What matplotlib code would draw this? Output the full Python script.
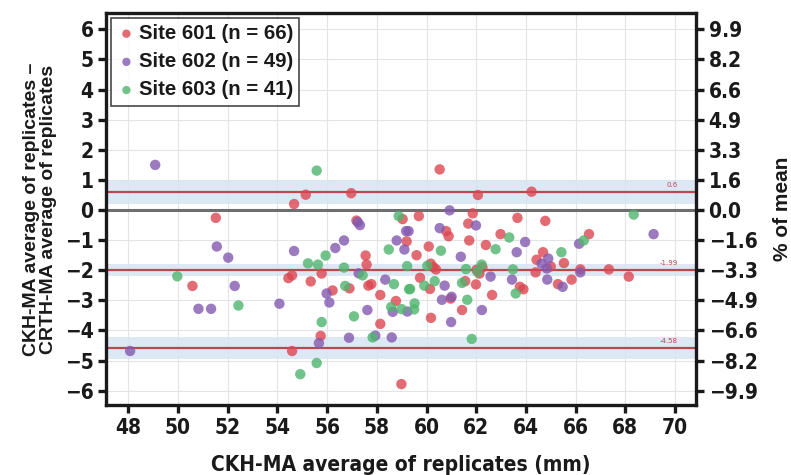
"""
Bland-Altman style plot: CKH-MA vs CRTH-MA replicate averages by site.
"""

import numpy as np
import matplotlib
matplotlib.use('Agg')
import matplotlib.pyplot as plt

# ============================================================
# DATA
# ============================================================
site601_x = [51.52, 50.58, 55.14, 54.67, 56.97, 57.18, 59.04, 59.20, 57.55, 57.59,
             55.78, 54.59, 54.44, 55.34, 57.66, 57.78, 56.22, 58.14, 58.77, 58.14,
             55.74, 54.59, 58.99, 60.53, 62.07, 64.23, 59.69, 61.86, 61.68, 60.79,
             60.89, 63.66, 64.78, 62.98, 61.72, 62.39, 64.69, 60.09, 64.43, 64.39,
             60.17, 60.27, 60.38, 62.02, 62.13, 63.76, 63.90, 59.74, 60.14, 61.56,
             61.99, 62.64, 60.97, 61.43, 60.18, 66.54, 65.00, 65.53, 65.29, 65.84,
             66.19, 67.34, 68.14, 59.60, 62.25, 56.90]
site601_y = [-0.26, -2.52, 0.51, 0.20, 0.56, -0.35, -0.30, -1.04, -1.51, -1.81,
             -2.11, -2.17, -2.26, -2.37, -2.51, -2.46, -2.67, -2.82, -3.02, -3.78,
             -4.18, -4.68, -5.78, 1.35, 0.50, 0.61, -0.20, -0.11, -0.45, -0.70,
             -0.87, -0.26, -0.36, -0.80, -1.01, -1.16, -1.40, -1.21, -1.65, -2.07,
             -1.78, -1.89, -1.97, -1.98, -2.11, -2.55, -2.63, -2.25, -2.62, -2.36,
             -2.47, -2.82, -2.94, -3.32, -3.58, -0.80, -1.87, -1.76, -2.46, -2.31,
             -1.97, -1.97, -2.21, -1.50, -1.90, -2.60]

site602_x = [49.08, 51.56, 52.02, 52.28, 50.82, 51.33, 48.07, 57.23, 57.32, 59.18,
             59.28, 58.80, 59.11, 56.68, 56.33, 54.67, 57.27, 58.34, 55.98, 56.09,
             54.08, 58.64, 59.23, 57.62, 55.67, 56.88, 57.94, 58.60, 60.93, 61.99,
             60.53, 63.97, 63.63, 61.38, 64.90, 64.63, 64.84, 64.86, 62.58, 63.44,
             60.73, 60.62, 61.01, 62.23, 60.99, 69.14, 66.14, 66.19, 65.48]
site602_y = [1.50, -1.21, -1.58, -2.52, -3.28, -3.28, -4.68, -0.40, -0.50, -0.70,
             -0.70, -1.01, -1.31, -1.01, -1.26, -1.36, -2.10, -2.31, -2.77, -3.07,
             -3.11, -3.38, -3.37, -3.32, -4.42, -4.24, -4.17, -4.23, -0.01, -0.51,
             -0.60, -1.06, -1.40, -1.55, -1.61, -1.78, -1.94, -2.31, -2.21, -2.31,
             -2.51, -2.98, -2.88, -3.32, -3.72, -0.80, -1.12, -2.07, -2.55]

site603_x = [49.97, 52.43, 55.58, 58.88, 58.48, 55.94, 55.23, 55.63, 56.68, 57.43,
             56.73, 58.69, 59.30, 59.22, 58.58, 59.00, 57.08, 55.78, 57.83, 55.58,
             54.92, 63.33, 62.78, 60.58, 60.03, 61.59, 62.22, 63.48, 63.59, 59.34,
             59.91, 60.33, 61.43, 61.64, 61.82, 59.52, 59.50, 68.34, 66.33, 65.43,
             62.05]
site603_y = [-2.20, -3.17, 1.31, -0.20, -1.31, -1.51, -1.77, -1.81, -1.91, -2.17,
             -2.52, -2.46, -2.63, -1.86, -3.22, -3.29, -3.53, -3.72, -4.23, -5.08,
             -5.45, -0.91, -1.30, -1.35, -1.85, -1.96, -1.81, -1.97, -2.77, -2.62,
             -2.51, -2.36, -2.42, -2.98, -4.28, -3.10, -3.30, -0.15, -1.01, -1.40,
             -2.05]

sites  = ['Site 601 (n = 66)', 'Site 602 (n = 49)', 'Site 603 (n = 41)']
colors = ['#dc4650', '#8359b0', '#4fb56e']

# limits of agreement: value, CI half-width
loa_values = [0.6, -1.99, -4.58]
loa_labels = ['0.6', '-1.99', '-4.58']
loa_ci     = [0.39, 0.20, 0.37]

left_ticks  = list(range(-6, 7))
right_ticks = ['\u22129.9', '\u22128.2', '\u22126.6', '\u22124.9', '\u22123.3', '\u22121.6', '0.0',
               '1.6', '3.3', '4.9', '6.6', '8.2', '9.9']
x_ticks = list(range(48, 71, 2))

# ============================================================
# FIGURE
# ============================================================
NARROW = ['DejaVu Sans', 'Liberation Sans']
BOLD   = ['Liberation Sans', 'DejaVu Sans']
INK    = '#1a1a1a'

fig = plt.figure(figsize=(7.91, 4.75), dpi=100)
ax = fig.add_axes([0.134, 0.147, 0.746, 0.826])

for v, ci in zip(loa_values, loa_ci):
    ax.axhspan(v - ci, v + ci, color='#d6e4f3', alpha=0.85, lw=0, zorder=1)
    ax.axhline(v, color='#b84a4e', lw=1.6, zorder=2)
ax.axhline(0, color='#6e6e6e', lw=2.2, zorder=2)

for v, lab in zip(loa_values, loa_labels):
    ax.text(70.1, v + 0.12, lab, color='#b84a4e', fontsize=5, ha='right', va='bottom', zorder=3)

for xs, ys, c, lab in zip([site601_x, site602_x, site603_x],
                          [site601_y, site602_y, site603_y], colors, sites):
    ax.scatter(xs, ys, s=56, color=c, alpha=0.8, edgecolors='none', label=lab, zorder=4)

ax.set_xlim(47.1, 70.85)
ax.set_ylim(-6.48, 6.55)
ax.set_xticks(x_ticks)
ax.set_yticks(left_ticks)
ax.grid(True, color='#e4e4e8', lw=0.8, zorder=0)
ax.set_axisbelow(True)

for sp in ax.spines.values():
    sp.set_linewidth(2.4)
    sp.set_color(INK)
ax.tick_params(direction='out', length=6, width=2.4, color=INK, pad=3)
tick_font = dict(family=NARROW, fontweight='bold', fontsize=15, fontstretch='condensed', color=INK)
ax.set_xticklabels([str(t) for t in x_ticks], **tick_font)
ax.set_yticklabels([str(t).replace('-', '\u2212') for t in left_ticks], **tick_font)

ax2 = ax.twinx()
ax2.set_ylim(ax.get_ylim())
ax2.set_yticks(left_ticks)
ax2.set_yticklabels(right_ticks, **tick_font)
ax2.tick_params(direction='out', length=6, width=2.4, color=INK, pad=3)
for sp in ax2.spines.values():
    sp.set_visible(False)

ax.set_xlabel('CKH-MA average of replicates (mm)', family=NARROW, fontweight='bold',
              fontsize=15, fontstretch='condensed', color=INK)
ax.xaxis.set_label_coords(0.5, -0.127)
ax.set_ylabel('CKH-MA average of replicates \u2013\nCRTH-MA average of replicates', family=BOLD,
              fontweight='bold', fontsize=14, color=INK, linespacing=1.0)
ax.yaxis.set_label_coords(-0.083, 0.5)
ax2.set_ylabel('% of mean', family=BOLD, fontweight='bold', fontsize=15, color=INK)
ax2.yaxis.set_label_coords(1.13, 0.5)

leg = ax.legend(loc='upper left', frameon=True, fancybox=False,
                edgecolor=INK, handletextpad=0.15, borderpad=0.3, labelspacing=0.45,
                markerscale=0.8, handlelength=0.9, borderaxespad=0.25,
                prop={'family': BOLD, 'weight': 'bold', 'size': 14.7})
leg.get_frame().set_linewidth(1.2)
for t in leg.get_texts():
    t.set_color(INK)

fig.savefig('out.png', dpi=100)
